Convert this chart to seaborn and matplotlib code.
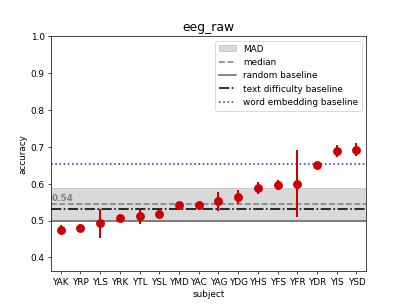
import matplotlib
matplotlib.use("Agg")
import matplotlib.pyplot as plt
import seaborn as sns
import pandas as pd

subjects = ["YAK", "YRP", "YLS", "YRK", "YTL", "YSL", "YMD", "YAC", "YAG", "YDG",
            "YHS", "YFS", "YFR", "YDR", "YIS", "YSD"]
acc_mid = [0.475, 0.481, 0.493, 0.506, 0.512, 0.519, 0.543, 0.543, 0.553, 0.563,
           0.589, 0.596, 0.600, 0.650, 0.689, 0.692]
acc_low = [0.465, 0.475, 0.455, 0.502, 0.493, 0.512, 0.539, 0.539, 0.529, 0.547,
           0.575, 0.585, 0.512, 0.643, 0.676, 0.677]
acc_high = [0.485, 0.487, 0.530, 0.510, 0.530, 0.526, 0.547, 0.547, 0.575, 0.579,
            0.602, 0.607, 0.688, 0.657, 0.702, 0.707]

median_val = 0.544
mad_val = 0.044
random_baseline = 0.5
text_baseline = 0.532
embed_baseline = 0.653

rows = []
for s, lo, m, hi in zip(subjects, acc_low, acc_mid, acc_high):
    for v in (lo, m, hi):
        rows.append({"subject": s, "accuracy": v})
df = pd.DataFrame(rows)

fig, ax = plt.subplots(figsize=(6.4, 4.8), dpi=63.6)

ax.axhspan(median_val - mad_val, median_val + mad_val, facecolor="#d9d9d9",
           edgecolor="#c8c8c8", linewidth=1.0, label="MAD", zorder=0)
ax.axhline(median_val, color="gray", linestyle="--", linewidth=1.8, label="median", zorder=1)
ax.axhline(random_baseline, color="dimgray", linestyle="-", linewidth=1.8,
           label="random baseline", zorder=1)
ax.axhline(text_baseline, color="black", linestyle="-.", linewidth=1.8,
           label="text difficulty baseline", zorder=1)
ax.axhline(embed_baseline, color="#3333bb", linestyle=":", linewidth=1.8,
           label="word embedding baseline", zorder=1)

sns.pointplot(data=df, x="subject", y="accuracy", order=subjects, estimator="median",
              errorbar=lambda x: (x.min(), x.max()), color="#cc0000",
              linestyle="none", markersize=8, err_kws={"linewidth": 2.3}, ax=ax)

ax.text(-0.48, median_val + 0.004, f"{median_val:.2f}", color="gray", fontweight="bold",
        fontsize=10, ha="left", va="bottom")

ax.set_ylim(0.362, 1.0)
ax.set_title("eeg_raw", fontsize=14)
ax.set_xlabel("subject")
ax.set_ylabel("accuracy")
ax.legend(loc="upper right")

fig.savefig("out.png", dpi=63.6)
